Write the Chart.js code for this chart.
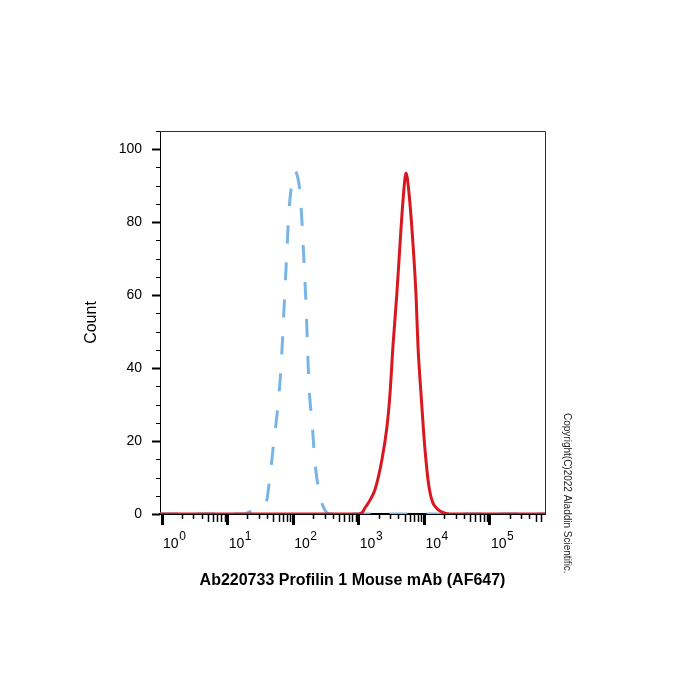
<!DOCTYPE html>
<html>
<head>
<meta charset="utf-8">
<script src="https://cdn.jsdelivr.net/npm/chart.js@4/dist/chart.umd.min.js"></script>
<style>
  html, body { margin: 0; padding: 0; background: #fff; }
  #histogram_chart { display: block; }
</style>
</head>
<body>
<canvas id="histogram_chart" width="700" height="700"></canvas>
<script>
// Isotype control (blue dashed) histogram
const isotypeX = [0.93, 10, 17.8, 21.9, 29, 38.5, 44, 49, 58.6, 65, 70, 75, 80, 86, 96, 106, 118, 127, 136, 146, 157, 165, 174, 194, 215, 256, 305, 364, 1000, 10000, 100000, 690000];
const isotypeY = [0, 0, 0, 0.6, 1.5, 3, 10, 17.5, 30, 40, 51, 62, 72, 83, 91, 94, 92, 88, 80, 69, 57, 46, 35, 25, 14, 5, 1, 0, 0, 0, 0, 0];

// Stained sample (red) histogram
const stainedX = [0.93, 10, 100, 1000, 1150, 1244, 1482, 1766, 2258, 2690, 2990, 3316, 3808, 4248, 4720, 5245, 5822, 6700, 7450, 7985, 8875, 9860, 11350, 12300, 13520, 15000, 17300, 20500, 24550, 100000, 690000];
const stainedY = [0, 0, 0, 0, 0.6, 1.7, 3.8, 6.7, 15, 24, 33, 46, 60.6, 74, 86, 93.5, 88, 74, 60, 46, 33, 21, 9.4, 5.5, 3, 1.8, 0.8, 0.2, 0, 0, 0];

const xTickValues = [1, 10, 100, 1000, 10000, 100000];
const xTickExponents = ["0", "1", "2", "3", "4", "5"];
const yTickValues = [0, 20, 40, 60, 80, 100];

const xTitle = "Ab220733 Profilin 1 Mouse mAb (AF647)";
const yTitle = "Count";
const copyright = "Copyright(C)2022 Aladdin Scientific.";

const FONT = "Arial, 'Liberation Sans', sans-serif";

const toPoints = (xs, ys) => xs.map((x, i) => ({ x, y: ys[i] }));

// Frame, minor ticks, superscript labels and the copyright note
const decorations = {
  id: "decorations",
  beforeDatasetsDraw(chart) {
    const { ctx, chartArea } = chart;
    ctx.save();
    ctx.strokeStyle = "#333";
    ctx.lineWidth = 1;
    ctx.beginPath();
    ctx.moveTo(chartArea.left, chartArea.top + 0.5);
    ctx.lineTo(chartArea.right + 0.5, chartArea.top + 0.5);
    ctx.lineTo(chartArea.right + 0.5, chartArea.bottom);
    ctx.stroke();
    ctx.restore();
  },
  afterDraw(chart) {
    const { ctx, chartArea, scales } = chart;
    const x = scales.x;
    const y = scales.y;
    ctx.save();
    ctx.strokeStyle = "#000";

    // minor ticks on the log axis
    ctx.lineWidth = 1.5;
    for (let exp = 0; exp <= 5; exp++) {
      for (let k = 2; k <= 9; k++) {
        const v = k * Math.pow(10, exp);
        if (v > x.max) continue;
        const px = Math.round(x.getPixelForValue(v)) + 0.5;
        const len = k < 5 ? 5 : 8;
        ctx.beginPath();
        ctx.moveTo(px, chartArea.bottom);
        ctx.lineTo(px, chartArea.bottom + len);
        ctx.stroke();
      }
    }

    // minor ticks on the count axis
    ctx.lineWidth = 1;
    for (let v = 5; v <= y.max; v += 5) {
      if (v % 20 === 0) continue;
      const py = Math.round(y.getPixelForValue(v)) + 0.5;
      ctx.beginPath();
      ctx.moveTo(chartArea.left - 4, py);
      ctx.lineTo(chartArea.left, py);
      ctx.stroke();
    }

    // 10^n labels
    ctx.fillStyle = "#000";
    ctx.textBaseline = "alphabetic";
    ctx.textAlign = "left";
    xTickValues.forEach((v, i) => {
      const px = x.getPixelForValue(v) + 1;
      ctx.font = "14px " + FONT;
      ctx.fillText("10", px, chartArea.bottom + 34);
      const w = ctx.measureText("10").width;
      ctx.font = "12px " + FONT;
      ctx.fillText(xTickExponents[i], px + w + 0.5, chartArea.bottom + 26);
    });

    // copyright, rotated
    ctx.translate(chartArea.right + 22, 413);
    ctx.rotate(Math.PI / 2);
    ctx.font = "10px " + FONT;
    ctx.fillStyle = "#222";
    ctx.textBaseline = "middle";
    ctx.fillText(copyright, 0, 0);
    ctx.restore();
  }
};

new Chart(document.getElementById("histogram_chart").getContext("2d"), {
  type: "line",
  data: {
    datasets: [{
      label: "Stained",
      data: toPoints(stainedX, stainedY),
      borderColor: "#d7191f",
      borderWidth: 3,
      pointRadius: 0,
      cubicInterpolationMode: "monotone",
      fill: false
    }, {
      label: "Isotype",
      data: toPoints(isotypeX, isotypeY),
      borderColor: "#78b4e6",
      borderWidth: 3,
      borderDash: [18, 19],
      pointRadius: 0,
      cubicInterpolationMode: "monotone",
      fill: false
    }]
  },
  options: {
    responsive: false,
    animation: false,
    layout: { padding: { left: 82, right: 155, top: 131, bottom: 110 } },
    plugins: { legend: { display: false }, tooltip: { enabled: false } },
    scales: {
      x: {
        type: "logarithmic",
        min: 0.93,
        max: 690000,
        afterBuildTicks: (scale) => { scale.ticks = xTickValues.map(v => ({ value: v })); },
        afterFit: (scale) => { scale.height = 76; },
        border: { display: true, color: "#000", width: 2 },
        grid: { drawOnChartArea: false, drawTicks: true, tickLength: 11, tickWidth: 3, tickColor: "#000" },
        ticks: { display: false },
        title: {
          display: true,
          text: xTitle,
          color: "#000",
          padding: 0,
          font: { family: FONT, size: 16, weight: "bold" }
        }
      },
      y: {
        min: 0,
        max: 105,
        afterBuildTicks: (scale) => { scale.ticks = yTickValues.map(v => ({ value: v })); },
        afterFit: (scale) => { scale.width = 78; },
        border: { display: true, color: "#000", width: 1 },
        grid: { drawOnChartArea: false, drawTicks: true, tickLength: 8, tickWidth: 2, tickColor: "#000" },
        ticks: {
          color: "#000",
          padding: 10,
          font: { family: FONT, size: 14 }
        },
        title: {
          display: true,
          text: yTitle,
          color: "#000",
          padding: 0,
          font: { family: FONT, size: 16 }
        }
      }
    }
  },
  plugins: [decorations]
});
</script>
</body>
</html>
